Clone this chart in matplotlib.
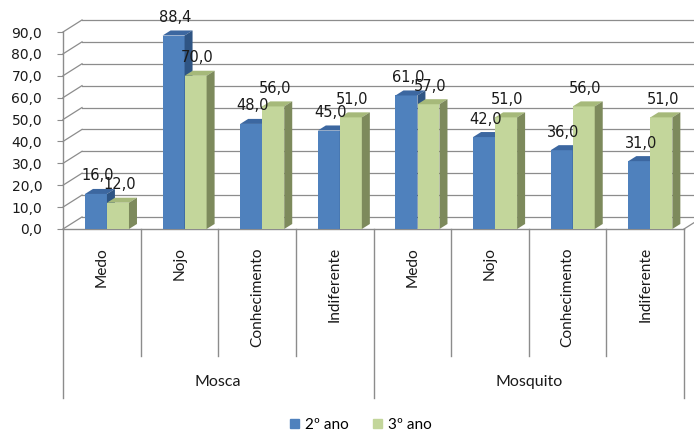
import numpy as np
import matplotlib
matplotlib.use('Agg')
import matplotlib.pyplot as plt
from matplotlib.patches import Polygon, Patch
from matplotlib.ticker import FuncFormatter, MultipleLocator

# respostas por categoria (%), Mosca e depois Mosquito
categorias = ['Medo', 'Nojo', 'Conhecimento', 'Indiferente',
              'Medo', 'Nojo', 'Conhecimento', 'Indiferente']
grupos = ['Mosca', 'Mosquito']
series = ['2º ano', '3º ano']
ano2 = [16.0, 88.4, 48.0, 45.0, 61.0, 42.0, 36.0, 31.0]
ano3 = [12.0, 70.0, 56.0, 51.0, 57.0, 51.0, 56.0, 51.0]

# cores das faces (frente, topo, lado)
azul = ['#4F81BD', '#3C67A0', '#2F5584']
verde = ['#C3D69B', '#A6B97A', '#7D8A5C']
grade = '#8C8C8C'
texto = 'Lato'

fig = plt.figure(figsize=(6.94, 4.33), dpi=100)
ax = fig.add_axes([63 / 694, (433 - 229) / 433, 621 / 694, 197 / 433])
ax.set_xlim(0, 8)
ax.set_ylim(0, 90)
for s in ax.spines.values():
    s.set_visible(False)

# profundidade da parede do fundo e das colunas
pdx, pdy = 0.245, 5.5
bdx, bdy = 0.103, 2.3

# parede do fundo: linhas de grade e diagonais
for v in range(0, 100, 10):
    ax.plot([pdx, 8 + pdx], [v + pdy, v + pdy], color=grade, lw=0.9, clip_on=False, zorder=1)
    ax.plot([0, pdx], [v, v + pdy], color=grade, lw=0.9, clip_on=False, zorder=1)
ax.plot([8, 8 + pdx], [0, pdy], color=grade, lw=0.9, clip_on=False, zorder=1)

# eixo, chao e separadores das categorias
ax.plot([0, 0], [90, -77.2], color=grade, lw=1.0, clip_on=False, zorder=2)
ax.plot([0, 8], [0, 0], color=grade, lw=1.0, clip_on=False, zorder=2)
for i in range(1, 9):
    fim = -77.2 if i in (4, 8) else -58
    ax.plot([i, i], [0, fim], color=grade, lw=1.0, clip_on=False, zorder=2)

x = np.arange(len(categorias))
w = 0.283


def colunas(esq, valores, cores, z):
    ax.bar(esq, valores, width=w, align='edge', color=cores[0], zorder=z)
    for x0, h in zip(esq, valores):
        x1 = x0 + w
        topo = [(x0, h), (x1, h), (x1 + bdx, h + bdy), (x0 + bdx, h + bdy)]
        lado = [(x1, 0), (x1, h), (x1 + bdx, h + bdy), (x1 + bdx, bdy)]
        ax.add_patch(Polygon(topo, closed=True, color=cores[1], lw=0, zorder=z, clip_on=False))
        ax.add_patch(Polygon(lado, closed=True, color=cores[2], lw=0, zorder=z, clip_on=False))
        ax.annotate(f'{h:.1f}'.replace('.', ','), xy=(x0 + w / 2, h), xytext=(1, 13),
                    textcoords='offset points', ha='center', va='center',
                    fontsize=10.5, color='#1A1A1A', zorder=6, annotation_clip=False)


colunas(x + 0.283, ano2, azul, 3)
colunas(x + 0.567, ano3, verde, 4)

# eixo y com virgula decimal
ax.yaxis.set_major_locator(MultipleLocator(10))
ax.yaxis.set_major_formatter(FuncFormatter(lambda v, p: f'{v:.1f}'.replace('.', ',')))
ax.tick_params(axis='y', length=4, color=grade, pad=11, labelsize=10, labelcolor='#1A1A1A')

ax.set_xticks(x + 0.5)
ax.set_xticklabels(categorias, rotation=90, fontfamily=texto, fontsize=11.2, color='#1A1A1A')
ax.tick_params(axis='x', length=0, pad=13)

for g, nome in enumerate(grupos):
    ax.text(2 + 4 * g, -69.9, nome, ha='center', va='center',
            fontfamily=texto, fontsize=11.5, color='#1A1A1A')

handles = [Patch(color=azul[0]), Patch(color=verde[0])]
fig.legend(handles, series, loc='center', bbox_to_anchor=(361 / 694, 1 - 425 / 433),
           ncol=2, frameon=False, handlelength=0.6, handleheight=0.6,
           handletextpad=0.4, columnspacing=1.6,
           prop={'family': texto, 'size': 11})

fig.savefig('out.png', dpi=100)
